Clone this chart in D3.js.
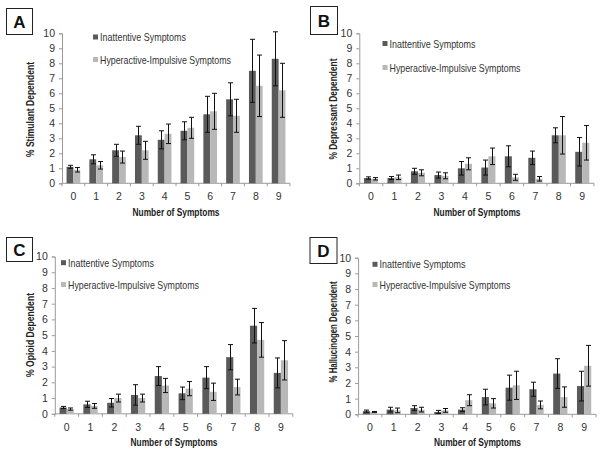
<!DOCTYPE html>
<html><head><meta charset="utf-8">
<script src="https://cdn.jsdelivr.net/npm/d3@7"></script>
<style>
body{margin:0;background:#fff;}
svg{display:block;font-family:"Liberation Sans",Arial,sans-serif;}
</style></head><body>
<svg id="c" width="602" height="451"></svg>
<script>
const categories = ["0","1","2","3","4","5","6","7","8","9"];
const yTicks = [0,1,2,3,4,5,6,7,8,9,10];
const seriesNames = ["Inattentive Symptoms","Hyperactive-Impulsive Symptoms"];
const xTitle = "Number of Symptoms";

// Panel A: stimulant
const stimInatt    = [1.1,1.6,2.2,3.2,2.9,3.5,4.6,5.6,7.5,8.3];
const stimInattErr = [0.1,0.3,0.4,0.6,0.6,0.6,1.2,1.1,2.1,1.8];
const stimHyper    = [0.9,1.2,1.75,2.2,3.3,3.7,4.8,4.5,6.5,6.2];
const stimHyperErr = [0.15,0.25,0.4,0.6,0.65,0.7,1.2,1.1,2.05,1.8];
// Panel B: depressant
const depInatt    = [0.35,0.35,0.8,0.55,1.0,1.05,1.8,1.7,3.2,2.1];
const depInattErr = [0.08,0.1,0.2,0.2,0.45,0.5,0.7,0.45,0.5,0.95];
const depHyper    = [0.3,0.4,0.7,0.5,1.3,1.8,0.4,0.3,3.2,2.7];
const depHyperErr = [0.08,0.15,0.2,0.2,0.4,0.55,0.2,0.15,1.25,1.15];
// Panel C: opioid
const opiInatt    = [0.4,0.6,0.7,1.2,2.4,1.3,2.3,3.6,5.6,2.6];
const opiInattErr = [0.07,0.2,0.27,0.65,0.6,0.4,0.7,0.8,1.1,0.95];
const opiHyper    = [0.3,0.5,1.0,1.0,1.8,1.6,1.4,1.7,4.7,3.4];
const opiHyperErr = [0.07,0.15,0.25,0.25,0.45,0.45,0.55,0.5,1.1,1.25];
// Panel D: hallucinogen
const halInatt    = [0.2,0.3,0.4,0.15,0.3,1.1,1.7,1.6,2.6,1.8];
const halInattErr = [0.07,0.15,0.15,0.1,0.12,0.5,0.8,0.45,0.95,0.95];
const halHyper    = [0.15,0.25,0.3,0.25,0.9,0.7,1.85,0.6,1.1,3.1];
const halHyperErr = [0.03,0.15,0.15,0.12,0.35,0.3,0.9,0.25,0.65,1.3];

const panelLetters = ["A","B","C","D"];
const yTitles = ["% Stimulant Dependent","% Depressant Dependent","% Opioid Dependent","% Hallucinogen  Dependent"];

const panels = [
  {letter:panelLetters[0], title:yTitles[0], a:stimInatt, ae:stimInattErr, b:stimHyper, be:stimHyperErr,
   x0:62, x1:290, yT:33.3, yB:183.3, box:[6,8,26,26], leg:[93,37,59.5], yTitleX:29.5, yTitleY:109.5, yTitleLen:95, xTitleY:215.5, xTitleX:176},
  {letter:panelLetters[1], title:yTitles[1], a:depInatt, ae:depInattErr, b:depHyper, be:depHyperErr,
   x0:359.3, x1:594, yT:33.3, yB:183.3, box:[310,6,27,28], leg:[382.5,43.5,67.5], yTitleX:333, yTitleY:109, yTitleLen:101, xTitleY:215.5, xTitleX:477},
  {letter:panelLetters[2], title:yTitles[2], a:opiInatt, ae:opiInattErr, b:opiHyper, be:opiHyperErr,
   x0:54.8, x1:292.8, yT:256.5, yB:413.8, box:[6,237,26,24], leg:[61,262.7,284.5], yTitleX:29.5, yTitleY:335, yTitleLen:84, xTitleY:445.5, xTitleX:174},
  {letter:panelLetters[3], title:yTitles[3], a:halInatt, ae:halInattErr, b:halHyper, be:halHyperErr,
   x0:358.1, x1:596, yT:257.7, yB:414.3, box:[309.5,237,27,26], leg:[372.5,264.3,284.5], yTitleX:332.5, yTitleY:332, yTitleLen:101, xTitleY:445.5, xTitleX:477.5}
];
const legendLens = [86,131];

const svg = d3.select("#c");
const DARK = "#5a5a5a", LIGHT = "#b8b8b8", AXIS = "#9a9a9a", TXT = "#333";

panels.forEach(p => {
  const g = svg.append("g");
  const x = d3.scaleBand().domain(categories).range([p.x0, p.x1]);
  const y = d3.scaleLinear().domain([0,10]).range([p.yB, p.yT]);
  const bw = x.bandwidth()*0.3;
  const off = [ -bw, 0 ];

  // letter box
  g.append("rect").attr("x",p.box[0]+0.5).attr("y",p.box[1]+0.5).attr("width",p.box[2]).attr("height",p.box[3])
    .attr("fill","#fff").attr("stroke","#222").attr("stroke-width",1);
  g.append("text").attr("x",p.box[0]+p.box[2]/2+0.5).attr("y",p.box[1]+p.box[3]/2+1)
    .attr("text-anchor","middle").attr("dominant-baseline","central")
    .attr("font-size",17).attr("font-weight","bold").attr("fill","#111").text(p.letter);

  // y axis
  const yAxis = d3.axisLeft(y).tickValues(yTicks).tickSize(3).tickPadding(4).tickFormat(d3.format("d"));
  const ya = g.append("g").attr("transform",`translate(${p.x0},0)`).call(yAxis);
  ya.select(".domain").attr("stroke",AXIS);
  ya.selectAll(".tick line").attr("stroke",AXIS);
  ya.selectAll("text").attr("font-size",10.5).attr("fill",TXT).attr("font-family","'Liberation Sans',Arial,sans-serif");

  // x axis with ticks at band boundaries
  const xa = g.append("g").attr("transform",`translate(0,${p.yB})`);
  xa.append("line").attr("x1",p.x0).attr("x2",p.x1).attr("stroke",AXIS);
  const bounds = categories.map(c => x(c)).concat([p.x1]);
  xa.selectAll("line.tk").data(bounds).join("line").attr("class","tk")
    .attr("x1",d=>d).attr("x2",d=>d).attr("y1",0).attr("y2",3).attr("stroke",AXIS);
  xa.selectAll("text").data(categories).join("text")
    .attr("x",d=>x(d)+x.bandwidth()/2).attr("y",17)
    .attr("text-anchor","middle").attr("font-size",10.5).attr("fill",TXT).text(d=>d);

  // bars
  const series = [{v:p.a,e:p.ae,c:DARK,o:off[0]},{v:p.b,e:p.be,c:LIGHT,o:off[1]}];
  series.forEach(s => {
    const cx = c => x(c)+x.bandwidth()/2 + s.o;
    g.append("g").selectAll("rect").data(categories).join("rect")
      .attr("x",(c)=>cx(c)).attr("width",bw)
      .attr("y",(c,i)=>y(s.v[i])).attr("height",(c,i)=>y(0)-y(s.v[i]))
      .attr("fill",s.c);
    const eg = g.append("g").attr("stroke","#111").attr("stroke-width",1);
    categories.forEach((c,i)=>{
      const mx = Math.round(cx(c)+bw/2)+0.5;
      const lo = y(Math.max(0,s.v[i]-s.e[i])), hi = y(s.v[i]+s.e[i]);
      eg.append("line").attr("x1",mx).attr("x2",mx).attr("y1",lo).attr("y2",hi);
      eg.append("line").attr("x1",mx-2.5).attr("x2",mx+2.5).attr("y1",lo).attr("y2",lo);
      eg.append("line").attr("x1",mx-2.5).attr("x2",mx+2.5).attr("y1",hi).attr("y2",hi);
    });
  });

  // legend
  const lg = g.append("g");
  [DARK,LIGHT].forEach((col,i)=>{
    const ly = p.leg[1+i];
    lg.append("rect").attr("x",p.leg[0]).attr("y",ly-2.5).attr("width",5).attr("height",5).attr("fill",col);
    lg.append("text").attr("x",p.leg[0]+7).attr("y",ly).attr("dominant-baseline","central")
      .attr("font-size",10.5).attr("fill",TXT)
      .attr("textLength",legendLens[i]).attr("lengthAdjust","spacingAndGlyphs").text(seriesNames[i]);
  });

  // axis titles
  g.append("text").attr("transform",`translate(${p.yTitleX},${p.yTitleY}) rotate(-90)`)
    .attr("text-anchor","middle").attr("dominant-baseline","central")
    .attr("font-size",11).attr("font-weight","bold").attr("fill","#222")
    .attr("textLength",p.yTitleLen).attr("lengthAdjust","spacingAndGlyphs").text(p.title);
  g.append("text").attr("x",p.xTitleX).attr("y",p.xTitleY).attr("text-anchor","middle")
    .attr("font-size",11.5).attr("font-weight","bold").attr("fill","#222")
    .attr("textLength",87).attr("lengthAdjust","spacingAndGlyphs").text(xTitle);
});
</script>
</body></html>
